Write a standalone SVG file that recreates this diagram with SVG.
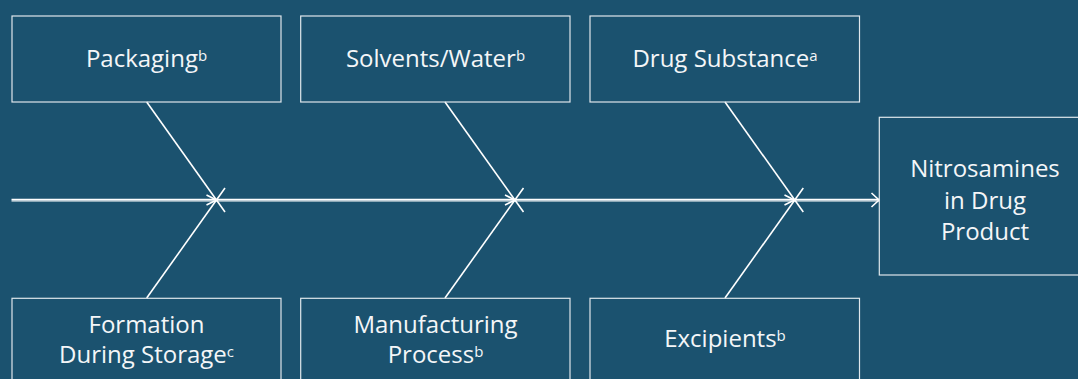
<svg xmlns="http://www.w3.org/2000/svg" width="1078" height="379" viewBox="0 0 1078 379">
<style>
.box{fill:none;stroke:#dfe7ec;stroke-width:1.2}
.t{font-family:"Open Sans","Noto Sans","DejaVu Sans",sans-serif;font-size:24px;fill:#f4f6f8;text-anchor:middle}
.sup{font-size:15px}
.ln{stroke:#ffffff;stroke-width:1.6;fill:none;stroke-linecap:butt}
.ml{stroke:#ffffff;stroke-width:1.3;fill:none}
</style>
<rect width="1078" height="379" fill="#1b526f"/>
<g id="connectors">
<line class="ml" x1="11.5" y1="199.3" x2="879" y2="199.3"/>
<line class="ml" x1="11.5" y1="200.9" x2="879" y2="200.9"/>
<polyline class="ln" points="206.5,195 216.5,200 206.5,205"/>
<polyline class="ln" points="505,195 515,200 505,205"/>
<polyline class="ln" points="784.5,195 794.5,200 784.5,205"/>
<polyline class="ln" points="871.5,193 879,200 871.5,207"/>
<line class="ln" x1="146.7" y1="102" x2="225" y2="212"/>
<line class="ln" x1="146.7" y1="298" x2="225" y2="188"/>
<line class="ln" x1="445" y1="102" x2="523.5" y2="212"/>
<line class="ln" x1="445" y1="298" x2="523.5" y2="188"/>
<line class="ln" x1="725" y1="102" x2="803.3" y2="212"/>
<line class="ln" x1="725" y1="298" x2="803.3" y2="188"/>
</g>
<g id="packaging">
<rect class="box" x="12" y="16" width="269" height="86"/>
<text class="t" x="146.5" y="67">Packaging<tspan class="sup" dy="-6">b</tspan></text>
</g>
<g id="solvents">
<rect class="box" x="300.7" y="16" width="269.3" height="86"/>
<text class="t" x="435.5" y="67">Solvents/Water<tspan class="sup" dy="-6">b</tspan></text>
</g>
<g id="drug-substance">
<rect class="box" x="590" y="16" width="269.5" height="86"/>
<text class="t" x="725" y="67">Drug Substance<tspan class="sup" dy="-6">a</tspan></text>
</g>
<g id="formation">
<rect class="box" x="12" y="298.3" width="269" height="86"/>
<text class="t" x="146.5" y="333.3">Formation</text>
<text class="t" x="146.5" y="363.3">During Storage<tspan class="sup" dy="-6">c</tspan></text>
</g>
<g id="manufacturing">
<rect class="box" x="300.7" y="298.3" width="269.3" height="86"/>
<text class="t" x="435.5" y="333">Manufacturing</text>
<text class="t" x="435.5" y="363.3">Process<tspan class="sup" dy="-6">b</tspan></text>
</g>
<g id="excipients">
<rect class="box" x="590" y="298.3" width="269.5" height="86"/>
<text class="t" x="725" y="347">Excipients<tspan class="sup" dy="-6">b</tspan></text>
</g>
<g id="nitrosamines">
<rect class="box" x="879.3" y="117.3" width="212" height="157.7"/>
<text class="t" x="985" y="177.3">Nitrosamines</text>
<text class="t" x="985" y="209.3">in Drug</text>
<text class="t" x="985" y="239.8">Product</text>
</g>
</svg>
